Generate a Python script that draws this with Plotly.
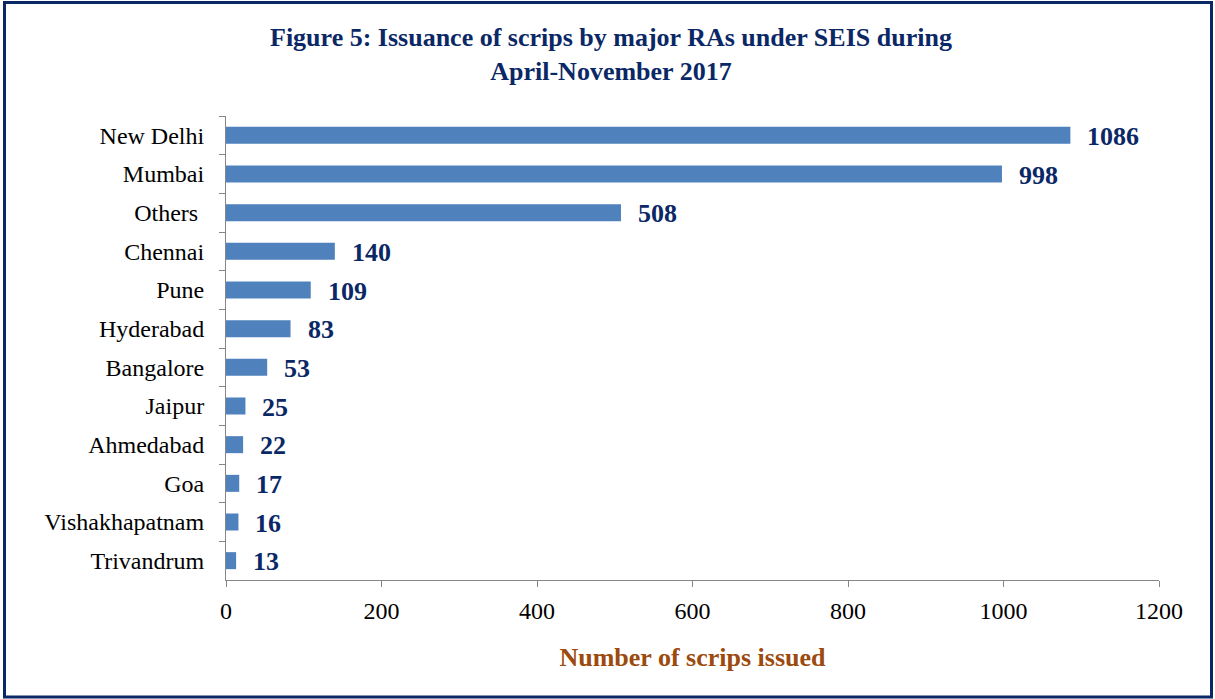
import plotly.graph_objects as go

categories = ["New Delhi", "Mumbai", "Others ", "Chennai", "Pune", "Hyderabad",
              "Bangalore", "Jaipur", "Ahmedabad", "Goa", "Vishakhapatnam", "Trivandrum"]
values = [1086, 998, 508, 140, 109, 83, 53, 25, 22, 17, 16, 13]
x_ticks = [0, 200, 400, 600, 800, 1000, 1200]

W, H = 1215, 699
ml, mr, mt, mb = 226, 56, 116, 119
pw, ph = W - ml - mr, H - mt - mb

navy = "#0b2866"
font = "Liberation Serif, Times New Roman, serif"

fig = go.Figure()
fig.add_trace(go.Bar(
    x=values, y=categories, orientation="h",
    marker=dict(color="#4f81bd", line=dict(width=0)),
    width=0.44, hoverinfo="x+y",
))

for c, v in zip(categories, values):
    fig.add_annotation(x=v, y=c, text=f"<b>{v}</b>", showarrow=False,
                       xanchor="left", xshift=15, yshift=-1,
                       font=dict(family=font, size=26, color=navy))

def px_to_paper_x(p):
    return (p - ml) / pw

def px_to_paper_y(p):
    return 1 - (p - mt) / ph

fig.add_shape(type="rect", xref="paper", yref="paper",
              x0=px_to_paper_x(4.5), x1=px_to_paper_x(1211.5),
              y0=px_to_paper_y(697), y1=px_to_paper_y(2.5),
              line=dict(color=navy, width=3), fillcolor="rgba(0,0,0,0)", layer="below")

fig.add_annotation(xref="paper", yref="paper",
                   x=px_to_paper_x(611), y=px_to_paper_y(54),
                   text="<b>Figure 5: Issuance of scrips by major RAs under SEIS during<br>April-November 2017</b>",
                   showarrow=False, xanchor="center", yanchor="middle",
                   font=dict(family=font, size=26, color=navy))

fig.update_layout(
    width=W, height=H,
    margin=dict(l=ml, r=mr, t=mt, b=mb, pad=0),
    paper_bgcolor="white", plot_bgcolor="white",
    showlegend=False,
    font=dict(family=font, size=24, color="black"),
    xaxis=dict(range=[0, 1200], tickvals=x_ticks, ticks="outside", ticklen=6,
               tickcolor="#868686", showline=True, linecolor="#868686", linewidth=1,
               showgrid=False, zeroline=False, ticklabelstandoff=3,
               tickfont=dict(family=font, size=24, color="black"),
               title=dict(text="<b>Number of scrips issued</b>", standoff=25,
                          font=dict(family=font, size=26, color="#9c4a0e"))),
    yaxis=dict(categoryorder="array", categoryarray=categories, autorange="reversed",
               ticks="outside", tickson="boundaries", ticklen=6, tickcolor="#868686",
               showline=True, linecolor="#868686", linewidth=1, showgrid=False,
               ticklabelstandoff=10,
               tickfont=dict(family=font, size=24, color="black"), ticksuffix=" "),
)

fig.write_html("out.html", config={"displayModeBar": False},
               post_script="document.body.style.margin='0';")
